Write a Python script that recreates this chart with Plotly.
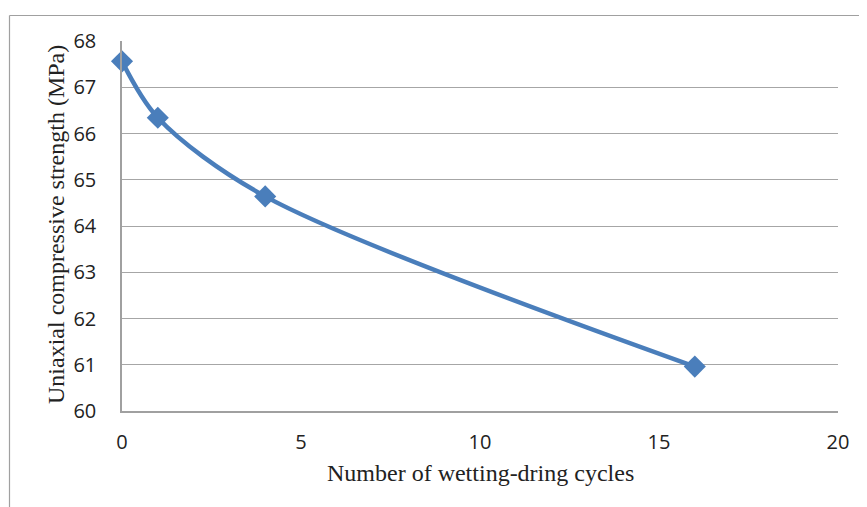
import plotly.graph_objects as go

cycles = [0, 1, 4, 16]
strength = [67.56, 66.34, 64.64, 60.96]

x_ticks = [0, 5, 10, 15, 20]
y_ticks = [60, 61, 62, 63, 64, 65, 66, 67, 68]

x_title = "Number of wetting-dring cycles"
y_title = "Uniaxial compressive strength (MPa)"

blue = "#4a7ebb"
grid = "#a6a6a6"
text_color = "#222222"

fig = go.Figure()
fig.add_trace(go.Scatter(
    x=cycles, y=strength, mode="lines+markers",
    line=dict(color=blue, width=4.5, shape="spline", smoothing=0.9),
    marker=dict(symbol="diamond", size=17, color=blue),
    showlegend=False, cliponaxis=False,
))

# page body adds an 8px offset; compensate so the picture lines up with the window
OFF = 8
W, H = 867 - OFF, 507 - OFF
# desired absolute plot area: x 122..838, y 41..411
l, t = 122 - OFF, 41 - OFF
r = W - (838 - OFF)
b = H - (411 - OFF)
pw, ph = W - l - r, H - t - b

def px_to_paper_x(px):
    return (px - OFF - l) / pw

def px_to_paper_y(py):
    return (H - b - (py - OFF)) / ph

fig.add_shape(type="line", xref="paper", yref="paper",
              x0=px_to_paper_x(9.5), x1=px_to_paper_x(880),
              y0=px_to_paper_y(15.5), y1=px_to_paper_y(15.5),
              line=dict(color="#a0a0a0", width=1.2))
fig.add_shape(type="line", xref="paper", yref="paper",
              x0=px_to_paper_x(9.5), x1=px_to_paper_x(9.5),
              y0=px_to_paper_y(15.5), y1=px_to_paper_y(515),
              line=dict(color="#a0a0a0", width=1.2))

fig.add_annotation(text=x_title, xref="paper", yref="paper",
                   x=px_to_paper_x(480), y=px_to_paper_y(473),
                   xanchor="center", yanchor="middle", showarrow=False,
                   font=dict(family="Liberation Serif", size=24, color=text_color))
fig.add_annotation(text=y_title, xref="paper", yref="paper",
                   x=px_to_paper_x(56), y=px_to_paper_y(225),
                   xanchor="center", yanchor="middle", showarrow=False,
                   textangle=-90,
                   font=dict(family="Liberation Serif", size=24, color=text_color))

fig.update_layout(
    width=W, height=H,
    margin=dict(l=l, r=r, t=t, b=b),
    paper_bgcolor="white", plot_bgcolor="white",
    font=dict(family="Open Sans", size=20, color=text_color),
    xaxis=dict(
        range=[0, 20], tickvals=x_ticks, showgrid=False,
        showline=True, linecolor="#a0a0a0", linewidth=1.5,
        zeroline=False, ticks="outside", ticklen=12, tickcolor="rgba(0,0,0,0)",
        tickfont=dict(family="Open Sans", size=20, color=text_color),
        automargin=False,
    ),
    yaxis=dict(
        range=[60, 68], tickvals=y_ticks, showgrid=True,
        gridcolor=grid, gridwidth=1.2,
        showline=True, linecolor="#a0a0a0", linewidth=1.5,
        zeroline=False, ticks="outside", ticklen=20, tickcolor="rgba(0,0,0,0)",
        tickfont=dict(family="Open Sans", size=20, color=text_color),
        automargin=False,
    ),
)

fig.write_html("out.html")
